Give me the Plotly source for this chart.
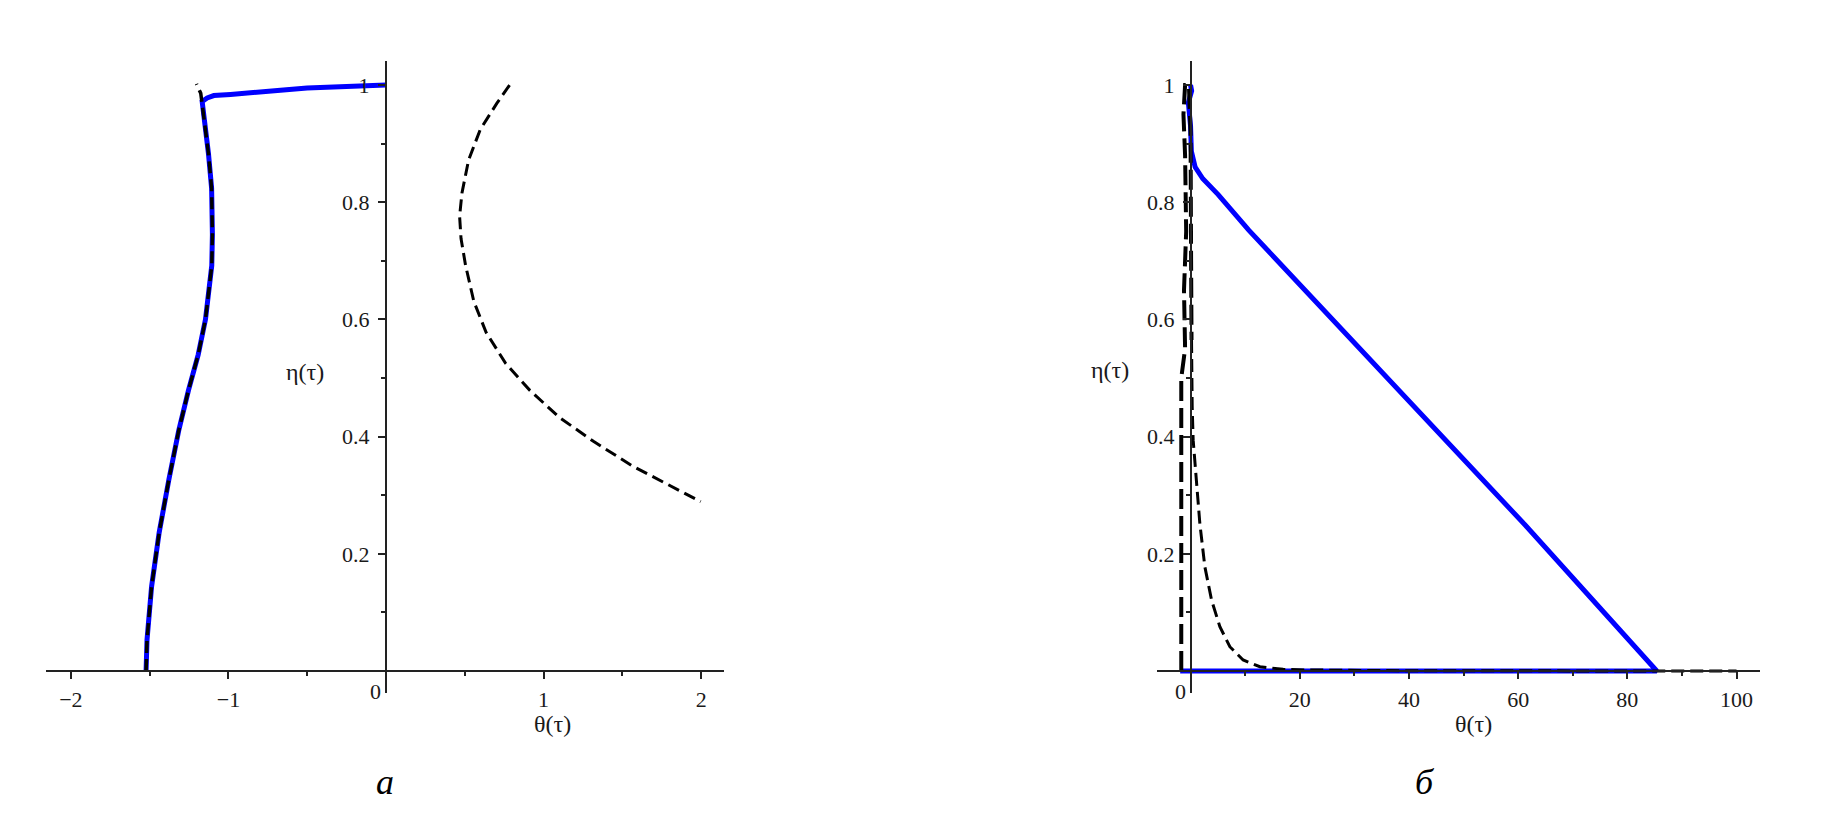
import plotly.graph_objects as go

# ---- panel "а" ----
a_blue_theta = [-1.523, -1.517, -1.488, -1.440, -1.378, -1.316, -1.254, -1.192, -1.146, -1.124,
                -1.106, -1.102, -1.107, -1.127, -1.150, -1.162, -1.167,
                -1.135, -1.093, -0.987, -0.881, -0.670, -0.501, -0.353, -0.184, 0.0]
a_blue_eta = [0.000, 0.053, 0.144, 0.236, 0.327, 0.410, 0.479, 0.540, 0.600, 0.654,
              0.692, 0.745, 0.824, 0.883, 0.935, 0.962, 0.972,
              0.978, 0.982, 0.984, 0.987, 0.991, 0.995, 0.997, 0.999, 1.0]

a_black_theta = [-1.523, -1.517, -1.488, -1.440, -1.378, -1.316, -1.254, -1.192, -1.146, -1.124,
                 -1.106, -1.102, -1.107, -1.127, -1.150, -1.162, -1.167, -1.176, -1.203]
a_black_eta = [0.000, 0.053, 0.144, 0.236, 0.327, 0.410, 0.479, 0.540, 0.600, 0.654,
               0.692, 0.745, 0.824, 0.883, 0.935, 0.962, 0.972, 0.986, 1.002]

a_dash_theta = [0.784, 0.704, 0.598, 0.524, 0.482, 0.467, 0.476, 0.505, 0.557, 0.635,
                0.759, 0.913, 1.099, 1.316, 1.563, 1.780, 1.997]
a_dash_eta = [1.000, 0.969, 0.924, 0.872, 0.816, 0.776, 0.738, 0.692, 0.631, 0.578,
              0.525, 0.479, 0.433, 0.392, 0.350, 0.319, 0.289]

# ---- panel "б" ----
b_blue_theta = [0.0, 0.2, -0.4, 0.0, 0.15, 0.84, 2.25, 5.06, 10.7, 19.1, 40.1, 61.2, 85.4, -1.9]
b_blue_eta = [1.0, 0.99, 0.97, 0.93, 0.887, 0.860, 0.840, 0.813, 0.752, 0.668, 0.458, 0.250, 0.0, 0.0]

b_wall_theta = [-1.7, -1.7, -1.0, -1.2, -0.8, -1.0, -1.3, -1.0, -0.3, 0.0, 0.1, 0.18]
b_wall_eta = [0.0, 0.5, 0.55, 0.65, 0.75, 0.88, 0.95, 1.0, 1.0, 0.92, 0.7, 0.565]

b_decay_theta = [0.18, 0.18, 0.3, 0.48, 1.1, 1.7, 2.62, 3.85, 5.37, 7.2, 9.63, 12.7, 16.96,
                 21.85, 40.0, 100.0]
b_decay_eta = [0.565, 0.508, 0.451, 0.394, 0.326, 0.252, 0.178, 0.121, 0.0756, 0.0415, 0.0188,
               0.0073, 0.0029, 0.0017, 0.0005, 0.0]

a_xticks = [-2, -1, 1, 2]
a_xminor = [-1.5, -0.5, 0.5, 1.5]
b_xticks = [20, 40, 60, 80, 100]
b_xminor = [10, 30, 50, 70, 90]
yticks = [0.2, 0.4, 0.6, 0.8, 1]
yminor = [0.1, 0.3, 0.5, 0.7, 0.9]

W, H = 1830, 822
OFF = 8  # page body margin
AX = "#222222"
BLUE = "#0000ff"
TICKFONT = dict(family="Liberation Serif", size=22, color="#1a1a1a")


def fx(px):
    return (px - OFF) / W


def fy(px):
    return 1 - (px - OFF) / H


fig = go.Figure()

fig.add_trace(go.Scatter(x=a_blue_theta, y=a_blue_eta, mode="lines",
                         line=dict(color=BLUE, width=5), xaxis="x", yaxis="y"))
fig.add_trace(go.Scatter(x=a_black_theta, y=a_black_eta, mode="lines",
                         line=dict(color="black", width=3.5, dash="12px,6px"), xaxis="x", yaxis="y"))
fig.add_trace(go.Scatter(x=a_dash_theta, y=a_dash_eta, mode="lines",
                         line=dict(color="black", width=3, dash="12px,6px"), xaxis="x", yaxis="y"))

fig.add_trace(go.Scatter(x=b_blue_theta, y=b_blue_eta, mode="lines",
                         line=dict(color=BLUE, width=5), xaxis="x2", yaxis="y2"))
fig.add_trace(go.Scatter(x=b_wall_theta, y=b_wall_eta, mode="lines",
                         line=dict(color="black", width=4, dash="20px,7px"), xaxis="x2", yaxis="y2"))
fig.add_trace(go.Scatter(x=b_decay_theta, y=b_decay_eta, mode="lines",
                         line=dict(color="black", width=3, dash="13px,6px"), xaxis="x2", yaxis="y2"))


def xax(left, right, rng, tickvals, minor):
    return dict(domain=[fx(left), fx(right)], range=rng, anchor="free", position=fy(671),
                showline=True, linecolor=AX, linewidth=1.5, showgrid=False, zeroline=False,
                ticks="outside", ticklen=7, tickwidth=1.5, tickcolor=AX,
                tickvals=tickvals, tickfont=TICKFONT, ticklabelstandoff=2,
                minor=dict(ticks="outside", ticklen=4, tickwidth=1.5, tickcolor=AX,
                           tickvals=minor, showgrid=False))


def yax(xpos):
    return dict(domain=[fy(693), fy(61)], range=[-0.0375, 1.041],
                anchor="free", position=fx(xpos),
                showline=True, linecolor=AX, linewidth=1.5, showgrid=False, zeroline=False,
                ticks="outside", ticklen=7, tickwidth=1.5, tickcolor=AX,
                tickvals=yticks, tickfont=TICKFONT, ticklabelstandoff=4,
                minor=dict(ticks="outside", ticklen=4, tickwidth=1.5, tickcolor=AX,
                           tickvals=yminor, showgrid=False))


fig.update_layout(
    width=W, height=H, autosize=False,
    margin=dict(l=0, r=0, t=0, b=0),
    paper_bgcolor="white", plot_bgcolor="white",
    showlegend=False,
    xaxis=xax(45.7, 724, [-2.16, 2.145], a_xticks, a_xminor),
    yaxis=yax(385.7),
    xaxis2=xax(1156.7, 1760, [-6.2, 104.3], b_xticks, b_xminor),
    yaxis2=yax(1190.7),
)

LABEL = dict(family="Liberation Serif", size=24, color="#1a1a1a")
CAP = dict(family="Liberation Serif", size=36, color="black")


def px_ann(text, x, y, font):
    fig.add_annotation(text=text, x=fx(x), y=fy(y), xref="paper", yref="paper",
                       showarrow=False, font=font, xanchor="center", yanchor="middle")


# "0" labels sit left of the vertical axes
px_ann("0", 375, 691, TICKFONT)
px_ann("0", 1180, 691, TICKFONT)
# axis titles
px_ann("θ(τ)", 552, 724, LABEL)
px_ann("η(τ)", 305, 372, LABEL)
px_ann("θ(τ)", 1473, 724, LABEL)
px_ann("η(τ)", 1110, 370, LABEL)
# panel captions
px_ann("<i>а</i>", 385, 782, CAP)
px_ann("<i>б</i>", 1425, 782, CAP)

fig.write_html("out.html")
